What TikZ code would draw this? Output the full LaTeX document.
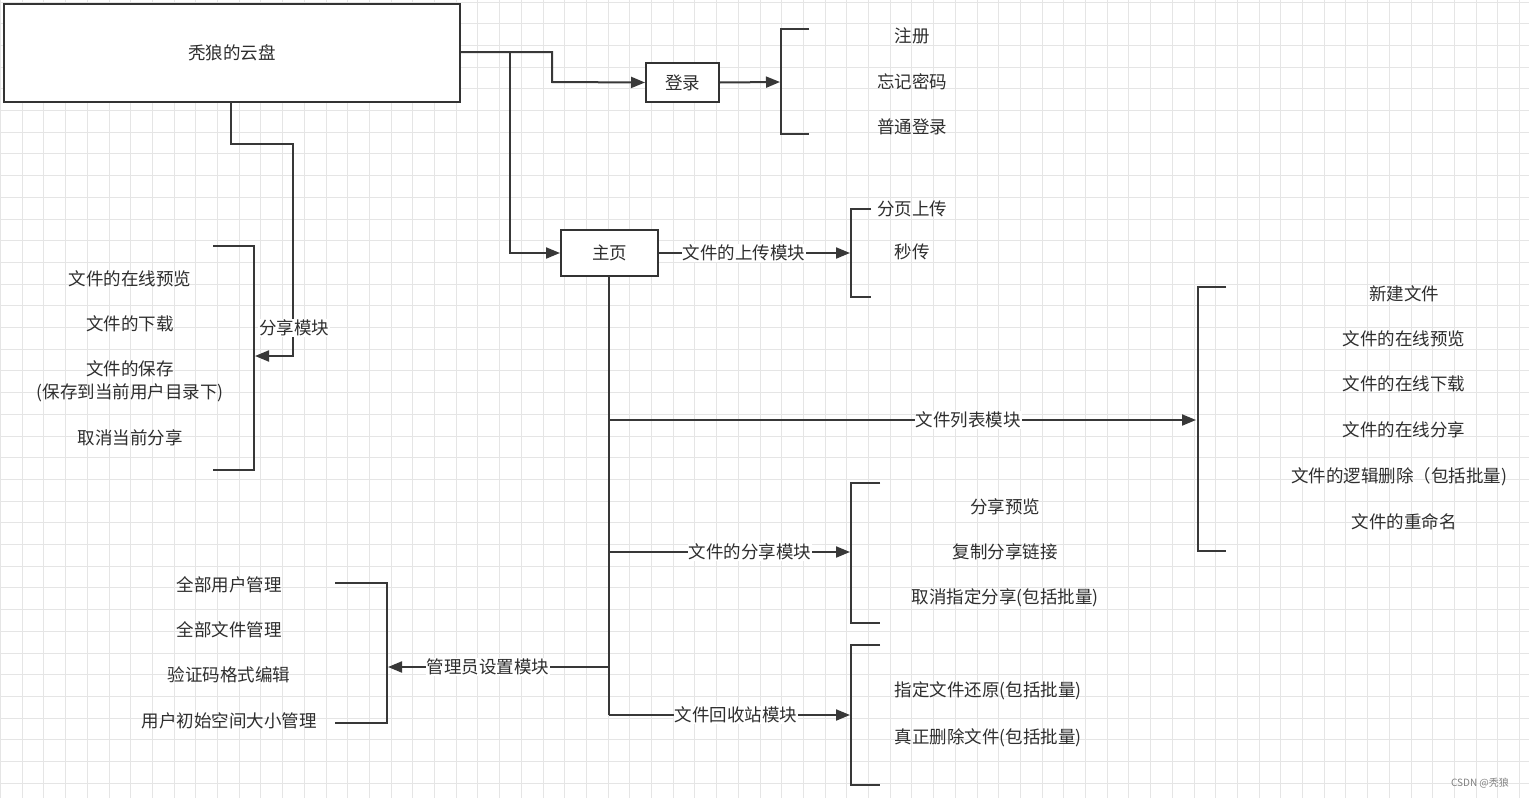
\documentclass[tikz,border=0pt]{standalone}
\usepackage{fontspec}
\setmainfont{Noto Sans CJK SC}
\usetikzlibrary{arrows.meta}
\begin{document}
\begin{tikzpicture}[x=1pt,y=-1pt,
  ln/.style={draw=black!78,line width=2pt},
  ar/.style={ln,-{Triangle[length=14pt,width=11pt]}},
  box/.style={draw=black!80,line width=2pt,inner sep=0pt},
  t/.style={font=\fontsize{17.5}{19}\selectfont,text=black!82,inner sep=1pt},
  lb/.style={t,fill=white}]
\useasboundingbox (0,0) rectangle (1529,798);
\fill[white] (0,0) rectangle (1529,798);
\foreach \i in {0,...,71} \draw[black!10,line width=0.9pt] (\i*21.7+0.5,0) -- (\i*21.7+0.5,798);
\foreach \j in {0,...,37} \draw[black!10,line width=0.9pt] (0,\j*21.7+2) -- (1529,\j*21.7+2);
% nodes
\node[box,minimum width=456pt,minimum height=98pt,fill=white] (main) at (232,53) {};
\node[t] at (main) {秃狼的云盘};
\node[box,minimum width=73pt,minimum height=39pt,fill=white] (login) at (682.5,82.5) {};
\node[t] at (login) {登录};
\node[box,minimum width=97pt,minimum height=46pt,fill=white] (home) at (609.5,253) {};
\node[t] at (home) {主页};
% coordinates
\coordinate (m1) at (552,52);
\coordinate (m2) at (510,52);
\coordinate (m3) at (231,102);
\coordinate (hb) at (609,276);
% main -> login
\draw[ar] (main.east |- m1) -- (m1) -- (552,82) -- (login.west);
\draw[ar] (m2) -- (510,253) -- (home.west);
\draw[ar] (login.east) -- (780,82);
% share module
\draw[ar] (m3) -- (231,144) -- (293,144) -- (293,356) -- (255,356);
\node[lb] at (294,328) {分享模块};
% brackets
\draw[ln] (809,29) -- (781,29) -- (781,134) -- (809,134);
\draw[ln] (213,246) -- (254,246) -- (254,470) -- (213,470);
\draw[ln] (871,209) -- (851,209) -- (851,297) -- (871,297);
\draw[ln] (1226,287) -- (1198,287) -- (1198,551) -- (1226,551);
\draw[ln] (880,483) -- (851,483) -- (851,623) -- (880,623);
\draw[ln] (335,583) -- (387,583) -- (387,723) -- (335,723);
\draw[ln] (880,645) -- (851,645) -- (851,785) -- (880,785);
% home branches
\draw[ar] (home.east) -- (850,253);
\node[lb] at (744,253) {文件的上传模块};
\draw[ln] (hb) -- (609,715);
\draw[ar] (609,420) -- (1196,420);
\node[lb] at (968,420) {文件列表模块};
\draw[ar] (609,552) -- (850,552);
\node[lb] at (750,552) {文件的分享模块};
\draw[ar] (609,667) -- (388,667);
\node[lb] at (488,667) {管理员设置模块};
\draw[ar] (609,715) -- (850,715);
\node[lb] at (736,715) {文件回收站模块};
% texts
\node[t] at (912,36) {注册};
\node[t] at (912,82) {忘记密码};
\node[t] at (912,127) {普通登录};
\node[t] at (130,279) {文件的在线预览};
\node[t] at (130,324) {文件的下载};
\node[t] at (130,369) {文件的保存};
\node[t] at (130,393) {(保存到当前用户目录下)};
\node[t] at (130,438) {取消当前分享};
\node[t] at (912,209) {分页上传};
\node[t] at (912,252) {秒传};
\node[t] at (1404,294) {新建文件};
\node[t] at (1404,339) {文件的在线预览};
\node[t] at (1404,384) {文件的在线下载};
\node[t] at (1404,430) {文件的在线分享};
\node[t] at (1399,477) {文件的逻辑删除（包括批量)};
\node[t] at (1404,522) {文件的重命名};
\node[t] at (1005,507) {分享预览};
\node[t] at (1005,552) {复制分享链接};
\node[t] at (1005,598) {取消指定分享(包括批量)};
\node[t] at (229,585) {全部用户管理};
\node[t] at (229,630) {全部文件管理};
\node[t] at (229,675) {验证码格式编辑};
\node[t] at (229,721) {用户初始空间大小管理};
\node[t] at (988,691) {指定文件还原(包括批量)};
\node[t] at (988,738) {真正删除文件(包括批量)};
\node[font=\fontsize{10}{11}\selectfont,text=black!50] at (1480,783) {CSDN @秃狼};
\end{tikzpicture}
\end{document}
